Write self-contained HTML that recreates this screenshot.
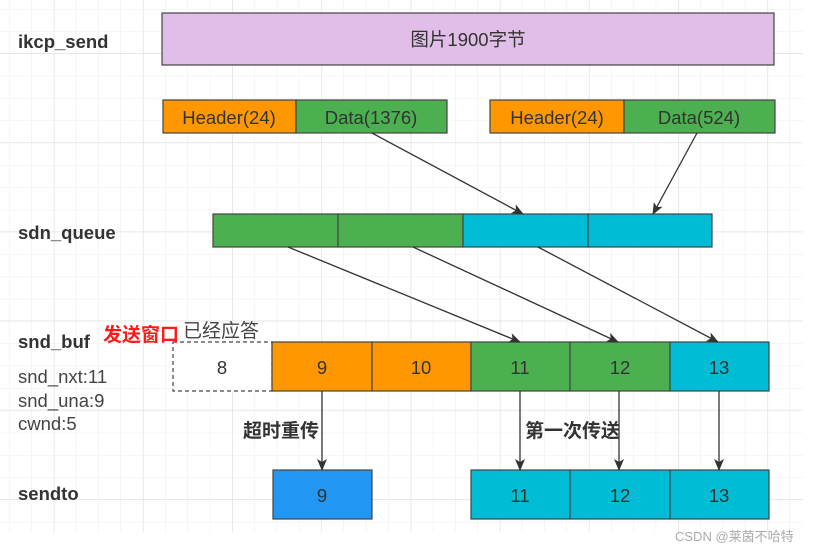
<!DOCTYPE html>
<html><head><meta charset="utf-8"><style>
body{margin:0;background:#fff}
svg{display:block;font-family:"Liberation Sans","Noto Sans CJK SC",sans-serif}
</style></head><body>
<svg width="817" height="550" viewBox="0 0 817 550" xmlns="http://www.w3.org/2000/svg">
<defs>
<pattern id="g" x="9" y="9" width="22.3" height="22.3" patternUnits="userSpaceOnUse">
<path d="M0 0H22.3M0 0V22.3" stroke="#ececec" stroke-width="1" fill="none"/>
</pattern>
<pattern id="G" x="54" y="53" width="89.2" height="89.2" patternUnits="userSpaceOnUse">
<path d="M0 0H89.2M0 0V89.2" stroke="#e0e0e0" stroke-width="1" fill="none"/>
</pattern>
<marker id="a" markerWidth="12" markerHeight="12" refX="11" refY="6" orient="auto" markerUnits="userSpaceOnUse">
<path d="M0 1L12 6L0 11L3 6Z" fill="#333"/>
</marker>
</defs>
<rect x="0" y="0" width="803" height="532" fill="url(#g)"/>
<rect x="0" y="0" width="803" height="532" fill="url(#G)"/>
<g font-weight="bold" font-size="18.5" fill="#333">
<text x="18" y="48">ikcp_send</text>
<text x="18" y="239">sdn_queue</text>
<text x="18" y="348">snd_buf</text>
<text x="18" y="500">sendto</text>
</g>
<g font-size="18.5" fill="#444">
<text x="18" y="383">snd_nxt:11</text>
<text x="18" y="407">snd_una:9</text>
<text x="18" y="430">cwnd:5</text>
</g>
<g stroke="#444" stroke-width="1.2">
<rect x="162" y="13" width="612" height="52" fill="#e1bee7"/>
<rect x="163" y="100" width="133" height="33" fill="#ff9800"/>
<rect x="296" y="100" width="151" height="33" fill="#4caf50"/>
<rect x="490" y="100" width="134" height="33" fill="#ff9800"/>
<rect x="624" y="100" width="151" height="33" fill="#4caf50"/>
<rect x="213" y="214" width="125" height="33" fill="#4caf50"/>
<rect x="338" y="214" width="125" height="33" fill="#4caf50"/>
<rect x="463" y="214" width="125" height="33" fill="#00bcd4"/>
<rect x="588" y="214" width="124" height="33" fill="#00bcd4"/>
<rect x="173" y="342" width="99" height="49" fill="#fff" stroke-dasharray="4 3"/>
<rect x="272" y="342" width="100" height="49" fill="#ff9800"/>
<rect x="372" y="342" width="99" height="49" fill="#ff9800"/>
<rect x="471" y="342" width="99" height="49" fill="#4caf50"/>
<rect x="570" y="342" width="100" height="49" fill="#4caf50"/>
<rect x="670" y="342" width="99" height="49" fill="#00bcd4"/>
<rect x="273" y="470" width="99" height="49" fill="#2196f3"/>
<rect x="471" y="470" width="99" height="49" fill="#00bcd4"/>
<rect x="570" y="470" width="100" height="49" fill="#00bcd4"/>
<rect x="670" y="470" width="99" height="49" fill="#00bcd4"/>
</g>
<g stroke="#333" stroke-width="1.3" marker-end="url(#a)">
<line x1="372" y1="133" x2="523" y2="214"/>
<line x1="697" y1="133" x2="653" y2="214"/>
<line x1="288" y1="247" x2="520" y2="342"/>
<line x1="413" y1="247" x2="618" y2="342"/>
<line x1="538" y1="247" x2="718" y2="342"/>
<line x1="322" y1="391" x2="322" y2="470"/>
<line x1="520" y1="391" x2="520" y2="470"/>
<line x1="619" y1="391" x2="619" y2="470"/>
<line x1="719" y1="391" x2="719" y2="470"/>
</g>
<g font-size="18.5" fill="#333" text-anchor="middle">
<text x="468" y="46">图片1900字节</text>
<text x="229" y="124">Header(24)</text>
<text x="371" y="124">Data(1376)</text>
<text x="557" y="124">Header(24)</text>
<text x="699" y="124">Data(524)</text>
<text x="222" y="374">8</text>
<text x="322" y="374">9</text>
<text x="421" y="374">10</text>
<text x="520" y="374">11</text>
<text x="620" y="374">12</text>
<text x="719" y="374">13</text>
<text x="322" y="502">9</text>
<text x="520" y="502">11</text>
<text x="620" y="502">12</text>
<text x="719" y="502">13</text>
</g>
<text x="103" y="341" font-size="19" font-weight="bold" fill="#ff1a1a">发送窗口</text>
<text x="183" y="337" font-size="19" fill="#444">已经应答</text>
<g font-size="19" font-weight="bold" fill="#333">
<text x="243" y="437">超时重传</text>
<text x="525" y="437">第一次传送</text>
</g>
<text x="675" y="541" font-size="13" fill="#aaa">CSDN @莱茵不哈特</text>
</svg>
</body></html>
